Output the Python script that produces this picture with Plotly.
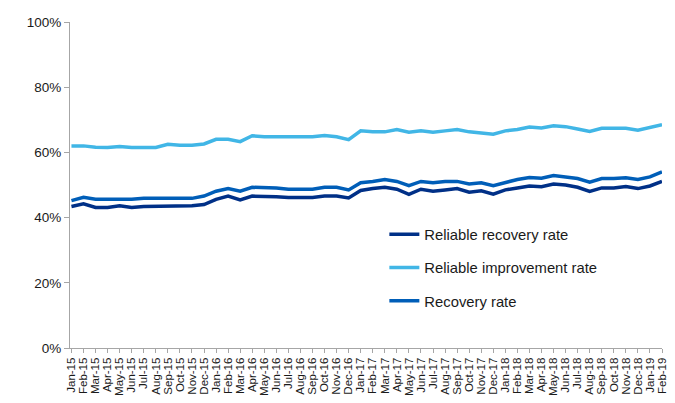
import plotly.graph_objects as go

months = ["Jan-15","Feb-15","Mar-15","Apr-15","May-15","Jun-15","Jul-15","Aug-15","Sep-15","Oct-15","Nov-15","Dec-15",
          "Jan-16","Feb-16","Mar-16","Apr-16","May-16","Jun-16","Jul-16","Aug-16","Sep-16","Oct-16","Nov-16","Dec-16",
          "Jan-17","Feb-17","Mar-17","Apr-17","May-17","Jun-17","Jul-17","Aug-17","Sep-17","Oct-17","Nov-17","Dec-17",
          "Jan-18","Feb-18","Mar-18","Apr-18","May-18","Jun-18","Jul-18","Aug-18","Sep-18","Oct-18","Nov-18","Dec-18",
          "Jan-19","Feb-19"]

reliable_recovery = [43.4, 44.2, 43.1, 43.1, 43.6, 43.1, 43.4, 43.4, 43.4, 43.4, 43.6, 44.0,
                     45.6, 46.6, 45.4, 46.6, 46.6, 46.4, 46.2, 46.2, 46.2, 46.6, 46.6, 46.0,
                     48.3, 48.9, 49.3, 48.7, 47.1, 48.7, 48.1, 48.5, 48.9, 47.8, 48.2, 47.2,
                     48.5, 49.1, 49.7, 49.5, 50.3, 50.0, 49.3, 48.0, 49.1, 49.1, 49.5, 48.9,
                     49.7, 51.1]

reliable_improvement = [62.0, 62.0, 61.6, 61.5, 61.8, 61.5, 61.5, 61.5, 62.5, 62.2, 62.2, 62.6,
                        64.0, 64.0, 63.3, 65.1, 64.8, 64.8, 64.8, 64.8, 64.8, 65.2, 64.8, 63.9,
                        66.6, 66.3, 66.3, 67.0, 66.2, 66.6, 66.2, 66.6, 67.0, 66.3, 66.0, 65.6,
                        66.6, 67.0, 67.8, 67.5, 68.2, 67.9, 67.2, 66.4, 67.4, 67.4, 67.4, 66.8,
                        67.6, 68.5]

recovery = [45.2, 46.2, 45.6, 45.6, 45.6, 45.6, 45.9, 45.9, 45.9, 45.9, 45.9, 46.6,
            48.1, 48.9, 48.1, 49.3, 49.3, 49.1, 48.7, 48.7, 48.7, 49.3, 49.3, 48.5,
            50.7, 51.1, 51.7, 51.1, 49.8, 51.1, 50.7, 51.1, 51.1, 50.3, 50.7, 49.8,
            50.7, 51.7, 52.3, 52.1, 52.9, 52.5, 52.0, 50.9, 52.0, 52.0, 52.2, 51.7,
            52.5, 54.0]

y_ticks = [0, 20, 40, 60, 80, 100]
y_tick_labels = ["0%", "20%", "40%", "60%", "80%", "100%"]

x = list(range(len(months)))

fig = go.Figure()
series = [
    ("Reliable recovery rate", reliable_recovery, "#003087"),
    ("Reliable improvement rate", reliable_improvement, "#41B6E6"),
    ("Recovery rate", recovery, "#005EB8"),
]
for i, (name, vals, col) in enumerate(series):
    fig.add_trace(go.Scatter(x=x, y=vals, mode="lines", name=name, legendgroup=f"g{i}",
                             line=dict(color=col, width=3.5)))

axis_col = "#A6A6A6"
# page body has an 8px default margin, so the figure is sized 8px smaller
fig.update_layout(
    width=667, height=395,
    margin=dict(l=62, r=13, t=14, b=55, autoexpand=False),
    paper_bgcolor="white", plot_bgcolor="white",
    font=dict(family="Liberation Sans, Arial, sans-serif", color="#1a1a1a", size=12),
    showlegend=True,
    legend=dict(x=0.531, y=0.398, xanchor="left", yanchor="top",
                bgcolor="rgba(0,0,0,0)", font=dict(size=14.8, color="#1a1a1a"),
                tracegroupgap=11, traceorder="grouped"),
    xaxis=dict(range=[-0.12, 49.0], tickmode="array", tickvals=x, ticktext=months,
               tickangle=-90, showgrid=False, zeroline=False, showline=True,
               linecolor=axis_col, linewidth=1, ticks="outside", ticklen=4,
               tickcolor=axis_col, tickfont=dict(size=11.5), automargin=False),
    yaxis=dict(range=[0, 100], tickmode="array", tickvals=y_ticks, ticktext=y_tick_labels,
               showgrid=False, zeroline=False, showline=True, linecolor=axis_col,
               linewidth=1, ticks="outside", ticklen=5, tickcolor=axis_col,
               tickfont=dict(size=13.5), automargin=False),
)

fig.write_html("out.html")
